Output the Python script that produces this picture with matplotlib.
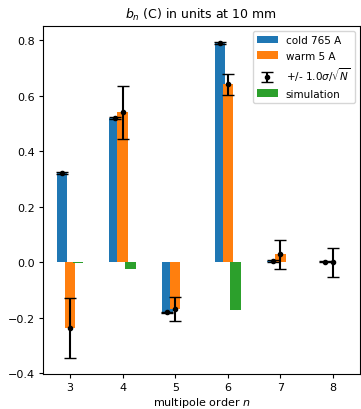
import numpy as np
import matplotlib
matplotlib.use("Agg")
import matplotlib.pyplot as plt

orders = [3, 4, 5, 6, 7, 8]
cold_765A = [0.322, 0.519, -0.181, 0.790, 0.004, 0.002]
cold_err = [0.003, 0.003, 0.003, 0.003, 0.003, 0.003]
warm_5A = [-0.238, 0.540, -0.168, 0.640, 0.028, 0.000]
warm_err = [0.108, 0.095, 0.043, 0.039, 0.051, 0.052]
simulation = [-0.003, -0.024, 0.0, -0.173, 0.0, 0.0]

x = np.array(orders, dtype=float)
width = 0.2
shift = 0.15

fig = plt.figure(figsize=(3.61, 4.10), dpi=100)
ax = fig.add_axes([0.119, 0.085, 0.878, 0.849])

b_cold = ax.bar(x - shift, cold_765A, width, color="C0", label="cold 765 A")
b_warm = ax.bar(x, warm_5A, width, color="C1", label="warm 5 A")
eb = ax.errorbar(x - shift, cold_765A, yerr=cold_err, fmt="k.", capsize=4,
                 label=r"+/- 1.0$\sigma/\sqrt{N}$")
ax.errorbar(x, warm_5A, yerr=warm_err, fmt="k.", capsize=4)
b_sim = ax.bar(x + shift, simulation, width, color="C2", label="simulation")

ax.set_xlim(2.487, 8.51)
ax.set_xticks(orders)
ax.set_yticks([-0.4, -0.2, 0.0, 0.2, 0.4, 0.6, 0.8])
ax.set_title(r"$b_n$ (C) in units at 10 mm", fontsize=9)
ax.set_xlabel(r"multipole order $n$", fontsize=8, labelpad=1.5)
ax.tick_params(labelsize=8, length=3, pad=3)
ax.legend(handles=[b_cold, b_warm, eb, b_sim], loc="upper right", fontsize=7.5)

fig.savefig("out.png", dpi=100)
